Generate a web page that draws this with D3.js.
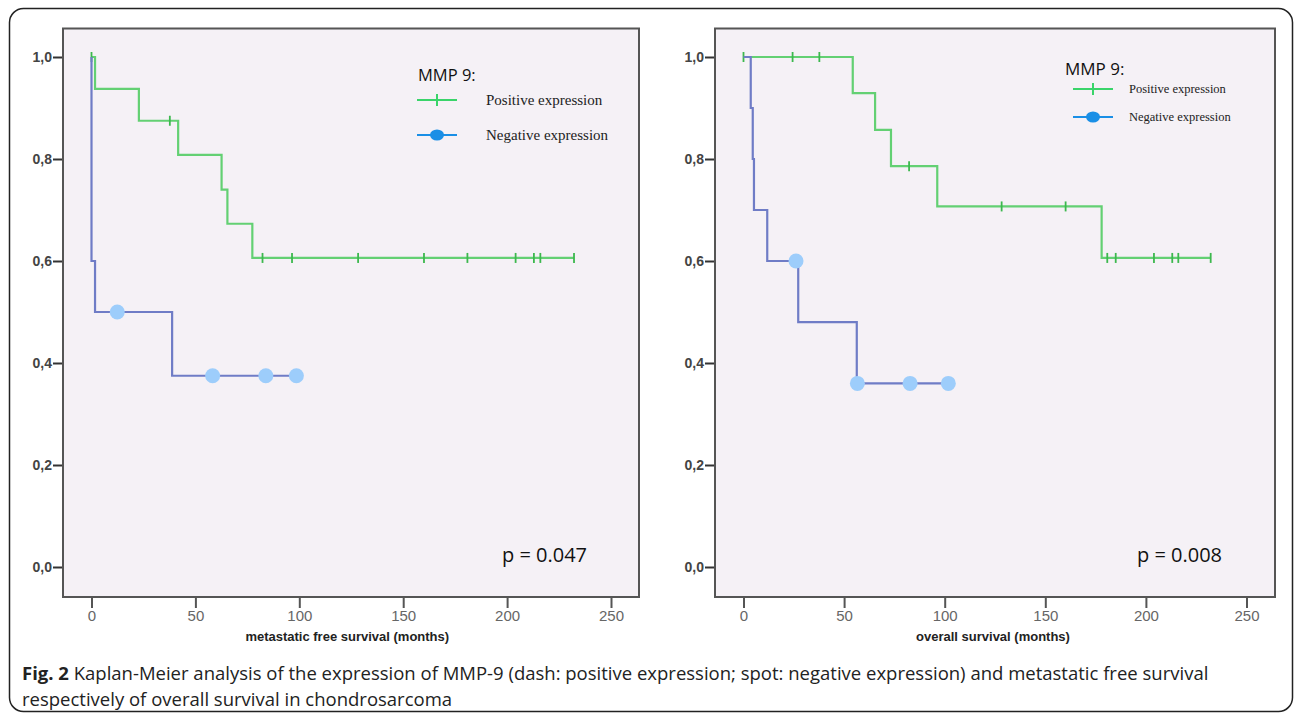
<!DOCTYPE html>
<html>
<head>
<meta charset="utf-8">
<script src="https://cdn.jsdelivr.net/npm/d3@7"></script>
<style>
  body { margin: 0; background: #fff; }
  svg { display: block; }
  .tick-y text { font-family: "Liberation Sans", Arial, sans-serif; font-size: 14px; font-weight: bold; fill: #444; }
  .tick-x text { font-family: "Liberation Sans", Arial, sans-serif; font-size: 15px; fill: #666; }
  .axis-title { font-family: "Liberation Sans", Arial, sans-serif; font-size: 13px; font-weight: bold; fill: #222; }
  .legend-head { font-family: "Open Sans", sans-serif; fill: #111; }
  .legend-item { font-family: "Liberation Serif", "Times New Roman", serif; fill: #222; }
  .p-value { font-family: "Open Sans", sans-serif; font-size: 20px; fill: #111; }
  .caption { font-family: "Open Sans", sans-serif; font-size: 18.5px; fill: #222; }
</style>
</head>
<body>
<script>
// Axis ticks
const xTicks = [0, 50, 100, 150, 200, 250];
const yTicks = [0, 0.2, 0.4, 0.6, 0.8, 1.0];

// Metastatic free survival: [months, survival] at each step
const mfsPositiveSteps = [[0, 1.0], [1.7, 0.9375], [22.8, 0.875], [41.7, 0.808], [62.6, 0.740], [65.4, 0.673], [77.4, 0.606]];
const mfsPositiveEnd = 232.2;
const mfsPositiveCensored = [0, 37.7, 82.3, 96.5, 128.3, 160, 180.9, 204.1, 212.9, 216, 232.2];
const mfsNegativeSteps = [[0, 1.0], [0, 0.6], [1.7, 0.5], [38.8, 0.375]];
const mfsNegativeEnd = 98.6;
const mfsNegativeCensored = [12.4, 58.3, 83.9, 98.6];

// Overall survival
const osPositiveSteps = [[0, 1.0], [54.3, 0.929], [65.4, 0.857], [73.3, 0.786], [96.3, 0.707], [178, 0.606]];
const osPositiveEnd = 232.2;
const osPositiveCensored = [0, 24.4, 37.7, 82.3, 128.3, 160.1, 180.8, 185, 204, 213.1, 216.1, 232.2];
const osNegativeSteps = [[0, 1.0], [3.6, 0.9], [4.6, 0.8], [5.2, 0.7], [11.8, 0.6], [27.2, 0.48], [56.3, 0.36]];
const osNegativeEnd = 101.8;
const osNegativeCensored = [26.1, 56.6, 82.8, 101.8];

const legendLabels = ["Positive expression", "Negative expression"];
const captionLines = [
  ["Fig. 2", " Kaplan-Meier analysis of the expression of MMP-9 (dash: positive expression; spot: negative expression) and metastatic free survival"],
  ["", "respectively of overall survival in chondrosarcoma"]
];

const W = 1295, H = 715;
const svg = d3.select("body").append("svg").attr("width", W).attr("height", H);

// Outer rounded frame
svg.append("rect")
  .attr("x", 9.5).attr("y", 8.5)
  .attr("width", 1283).attr("height", 703)
  .attr("rx", 14).attr("ry", 14)
  .style("fill", "none").style("stroke", "#222").style("stroke-width", 1.5);

// survival value at time t (censor marks sit on the curve)
function survivalAt(steps, t) {
  let s = steps[0][1];
  steps.forEach(d => { if (d[0] <= t) s = d[1]; });
  return s;
}

function drawPanel(p) {
  const x = d3.scaleLinear().domain([0, 250]).range([p.x0, p.x250]);
  const y = d3.scaleLinear().domain([0, 1]).range([567, 57]);

  // plot area
  svg.append("rect")
    .attr("x", p.left).attr("y", 28.5)
    .attr("width", p.right - p.left).attr("height", 597 - 28.5)
    .style("fill", "#f5f1f6").style("stroke", "#555").style("stroke-width", 2);

  // y axis
  svg.append("g")
    .attr("class", "tick-y")
    .attr("transform", `translate(${p.left - 1},0)`)
    .call(d3.axisLeft(y).tickValues(yTicks).tickSize(9).tickPadding(1)
      .tickFormat(d => d.toFixed(1).replace(".", ",")))
    .call(g => g.select(".domain").remove())
    .call(g => g.selectAll("line").style("stroke", "#333").style("stroke-width", 2));

  // x axis
  svg.append("g")
    .attr("class", "tick-x")
    .attr("transform", `translate(0,${598})`)
    .call(d3.axisBottom(x).tickValues(xTicks).tickSize(10).tickPadding(2))
    .call(g => g.select(".domain").remove())
    .call(g => g.selectAll("line").style("stroke", "#555").style("stroke-width", 2));

  svg.append("text")
    .attr("class", "axis-title")
    .attr("x", (p.x0 + p.x250) / 2 + p.titleShift)
    .attr("y", 641)
    .attr("text-anchor", "middle")
    .text(p.title);

  const line = d3.line()
    .x(d => x(d[0]))
    .y(d => y(d[1]))
    .curve(d3.curveStepAfter);

  // green curve with dash censors
  const pos = p.posSteps.concat([[p.posEnd, p.posSteps[p.posSteps.length - 1][1]]]);
  svg.append("path")
    .attr("d", line(pos))
    .style("fill", "none").style("stroke", "#63d073").style("stroke-width", 2.2);
  svg.append("g").selectAll("line")
    .data(p.posCensored)
    .enter()
    .append("line")
    .attr("x1", d => x(d)).attr("x2", d => x(d))
    .attr("y1", d => y(survivalAt(p.posSteps, d)) - 5)
    .attr("y2", d => y(survivalAt(p.posSteps, d)) + 5)
    .style("stroke", "#3cb84e").style("stroke-width", 1.8);

  // blue curve with spot censors
  const neg = p.negSteps.concat([[p.negEnd, p.negSteps[p.negSteps.length - 1][1]]]);
  svg.append("path")
    .attr("d", line(neg))
    .style("fill", "none").style("stroke", "#6f7cc6").style("stroke-width", 2.2);
  svg.append("g").selectAll("circle")
    .data(p.negCensored)
    .enter()
    .append("circle")
    .attr("cx", d => x(d))
    .attr("cy", d => y(survivalAt(p.negSteps, d)))
    .attr("r", 7.5)
    .style("fill", "#9dcdfb");

  // legend
  const L = p.legend;
  svg.append("text")
    .attr("class", "legend-head")
    .attr("x", L.x).attr("y", L.headY)
    .style("font-size", L.headSize + "px")
    .text("MMP 9:");
  L.rows.forEach((ry, i) => {
    svg.append("line")
      .attr("x1", L.lineX).attr("x2", L.lineX + 40)
      .attr("y1", ry).attr("y2", ry)
      .style("stroke", i === 0 ? "#3ad46a" : "#1a8fe6").style("stroke-width", 2);
    if (i === 0) {
      svg.append("line")
        .attr("x1", L.lineX + 20).attr("x2", L.lineX + 20)
        .attr("y1", ry - 6).attr("y2", ry + 6)
        .style("stroke", "#3ad46a").style("stroke-width", 2);
    } else {
      svg.append("ellipse")
        .attr("cx", L.lineX + 20).attr("cy", ry)
        .attr("rx", 7).attr("ry", 5.5)
        .style("fill", "#1a8fe6");
    }
    svg.append("text")
      .attr("class", "legend-item")
      .attr("x", L.textX).attr("y", ry + L.itemSize * 0.32)
      .style("font-size", L.itemSize + "px")
      .text(legendLabels[i]);
  });

  svg.append("text")
    .attr("class", "p-value")
    .attr("x", p.pX).attr("y", 562)
    .text(p.pText);
}

drawPanel({
  left: 63, right: 639, x0: 91.5, x250: 611,
  title: "metastatic free survival (months)", titleShift: -4,
  posSteps: mfsPositiveSteps, posEnd: mfsPositiveEnd, posCensored: mfsPositiveCensored,
  negSteps: mfsNegativeSteps, negEnd: mfsNegativeEnd, negCensored: mfsNegativeCensored,
  legend: { x: 418, headY: 81, headSize: 16.5, lineX: 417, textX: 486, rows: [100, 135], itemSize: 15 },
  pX: 502, pText: "p = 0.047"
});

drawPanel({
  left: 715, right: 1275, x0: 743.5, x250: 1246.5,
  title: "overall survival (months)", titleShift: -2,
  posSteps: osPositiveSteps, posEnd: osPositiveEnd, posCensored: osPositiveCensored,
  negSteps: osNegativeSteps, negEnd: osNegativeEnd, negCensored: osNegativeCensored,
  legend: { x: 1065, headY: 75, headSize: 17, lineX: 1073, textX: 1129, rows: [89, 117], itemSize: 12.5 },
  pX: 1137, pText: "p = 0.008"
});

// Caption (first line is justified to the text block width)
const captionWidth = 1183;
captionLines.forEach((ln, i) => {
  const t = svg.append("text")
    .attr("class", "caption")
    .attr("x", 22).attr("y", 680 + i * 26);
  if (ln[0]) t.append("tspan").style("font-weight", "bold").text(ln[0]);
  t.append("tspan").text(ln[1]);
  if (i === 0) {
    const gaps = (ln[0] + ln[1]).split(" ").length - 1;
    const extra = captionWidth - t.node().getComputedTextLength();
    if (extra > 0) t.style("word-spacing", extra / gaps + "px");
  }
});
</script>
</body>
</html>
